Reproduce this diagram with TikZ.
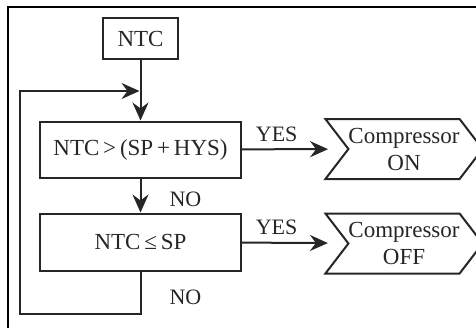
\documentclass[tikz,border=0pt]{standalone}
\usepackage{fontspec}
\setmainfont{Liberation Serif}
\usetikzlibrary{arrows.meta,shapes.symbols}
\tikzset{>={Stealth[length=18pt,width=16pt,inset=6pt]}}
\definecolor{ink}{HTML}{262626}

\begin{document}
\begin{tikzpicture}[->,x=1pt,y=-1pt,line width=2pt,color=ink]
\tikzstyle{obj} = [rectangle,draw,font=\fontsize{23}{27}\selectfont,inner sep=0pt,minimum width=201pt,minimum height=56pt]
\tikzstyle{result} = [signal,signal from=west,signal to=east,signal pointer angle=105,draw,font=\fontsize{23}{27}\selectfont,align=center,inner sep=0pt,minimum width=150pt,minimum height=60pt]
\tikzstyle{lbl} = [font=\fontsize{22}{26}\selectfont,inner sep=2pt]
\useasboundingbox (0,0) rectangle (476,327);
\draw[-,black,line width=1.5pt] (8,340) |- (490,7);
\node[obj,minimum width=75pt,minimum height=41pt] (ntc) at (140.5,38.5) {NTC};
\node[obj] (cond1) at (140.5,149.5) {NTC\,>\,(SP\,+\,HYS)};
\node[obj,minimum height=57pt] (cond2) at (140.5,242) {NTC\,≤\,SP};
\node[result] (on) at (404,149) {Compressor\\ON};
\node[result] (off) at (404,243.5) {Compressor\\OFF};
\coordinate (join) at (140.5,91);
\coordinate (loop) at (20,314);
\draw (ntc) -> (cond1);
\draw (cond1) -> (cond2) node[lbl,pos=0.6,xshift=45pt] {NO};
\draw[shorten >=19pt] (cond1) -> (on) node[lbl,pos=0.33,above=5pt] {YES};
\draw[shorten >=19pt] (cond2) -> (off) node[lbl,pos=0.33,above=5pt] {YES};
\draw[shorten >=1pt] (cond2) |- (loop) node[lbl,pos=0.3,xshift=45pt] {NO} |- (join);
\end{tikzpicture}
\end{document}
